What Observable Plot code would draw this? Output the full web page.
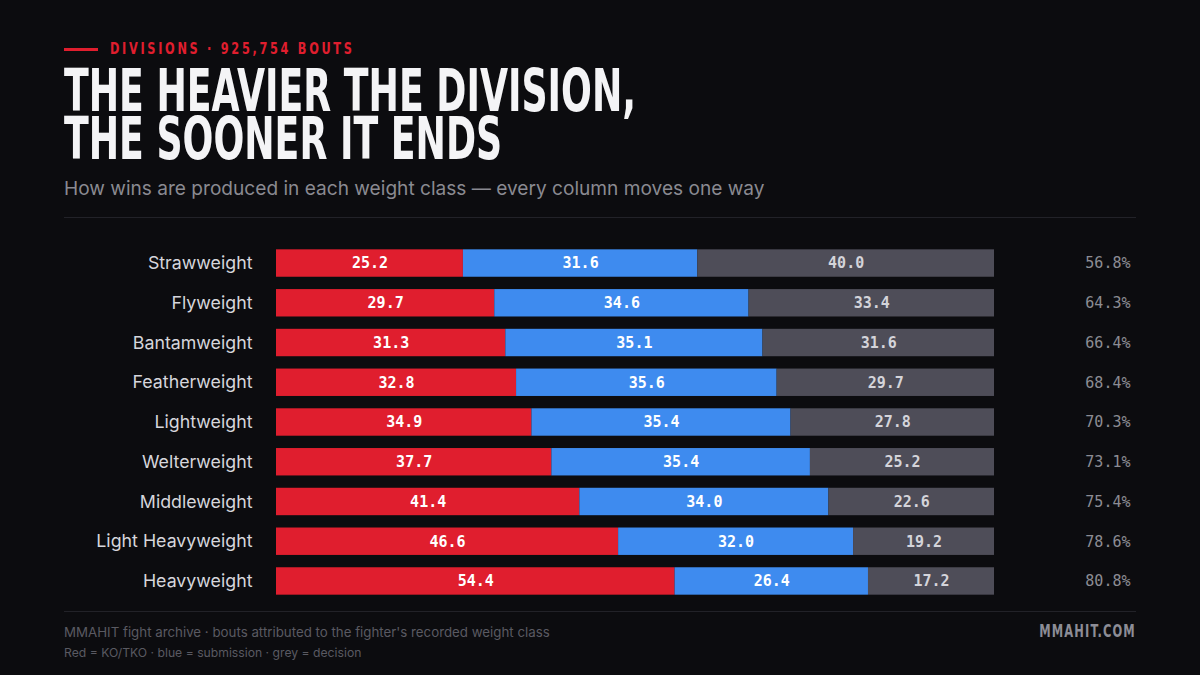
<!DOCTYPE html>
<html>
<head>
<meta charset="utf-8">
<script src="https://cdn.jsdelivr.net/npm/d3@7"></script>
<script src="https://cdn.jsdelivr.net/npm/@observablehq/plot@0.6"></script>
<style>
  html, body { margin: 0; padding: 0; background: #0c0c0f; }
  body { width: 1200px; height: 675px; position: relative; overflow: hidden; font-family: Inter, "Noto Sans", sans-serif; }
  .kicker { position: absolute; left: 64px; top: 40px; display: flex; align-items: center; }
  .kicker .bar { width: 34px; height: 3px; background: #e01e2e; margin-right: 12px; }
  .kicker .txt { color: #e01e2e; font-family: "DejaVu Sans Condensed", sans-serif; font-weight: 700; font-size: 15px; letter-spacing: 3.2px; line-height: 18px; transform-origin: 0 50%; transform: scaleX(0.84); white-space: nowrap; }
  .title { position: absolute; left: 64px; top: 67px; color: #f4f4f6; font-family: "DejaVu Sans Condensed", sans-serif; font-weight: 700; font-size: 58px; line-height: 48px; transform-origin: 0 0; transform: scaleX(0.695); white-space: nowrap; }
  .subtitle { position: absolute; left: 64px; top: 176px; color: #8a8a91; font-size: 19.1px; }
  .rule { position: absolute; left: 64px; width: 1072px; height: 1px; background: #222228; }
  #chart { position: absolute; left: 64px; top: 237px; }
  .foot1 { position: absolute; left: 64px; top: 624px; color: #5a5a62; font-size: 13.3px; }
  .foot2 { position: absolute; left: 64px; top: 645px; color: #5a5a62; font-size: 12.2px; }
  .brand { position: absolute; right: 64px; top: 621px; color: #8d8d96; font-family: "DejaVu Sans Condensed", sans-serif; font-weight: 700; font-size: 17px; letter-spacing: 1.5px; transform-origin: 100% 50%; transform: scaleX(0.75); white-space: nowrap; }
</style>
</head>
<body>
<div class="kicker"><div class="bar"></div><div class="txt">DIVISIONS · 925,754 BOUTS</div></div>
<div class="title">THE HEAVIER THE DIVISION,<br>THE SOONER IT ENDS</div>
<div class="subtitle">How wins are produced in each weight class — every column moves one way</div>
<div class="rule" style="top:217px"></div>
<div id="chart"></div>
<div class="rule" style="top:611px"></div>
<div class="foot1">MMAHIT fight archive · bouts attributed to the fighter's recorded weight class</div>
<div class="foot2">Red = KO/TKO · blue = submission · grey = decision</div>
<div class="brand">MMAHIT.COM</div>
<script>
const divisions = ["Strawweight","Flyweight","Bantamweight","Featherweight","Lightweight","Welterweight","Middleweight","Light Heavyweight","Heavyweight"];
const koTko     = [25.2, 29.7, 31.3, 32.8, 34.9, 37.7, 41.4, 46.6, 54.4];
const submission= [31.6, 34.6, 35.1, 35.6, 35.4, 35.4, 34.0, 32.0, 26.4];
const decision  = [40.0, 33.4, 31.6, 29.7, 27.8, 25.2, 22.6, 19.2, 17.2];
const types = ["KO/TKO", "Submission", "Decision"];
const colors = ["#e01e2e", "#3e8bef", "#4e4d58"];

const rows = [];
divisions.forEach((d, i) => {
  rows.push({division: d, type: types[0], value: koTko[i]});
  rows.push({division: d, type: types[1], value: submission[i]});
  rows.push({division: d, type: types[2], value: decision[i]});
});
const finishes = divisions.map((d, i) => ({division: d, finish: koTko[i] + submission[i]}));

const stackOpts = {offset: "normalize", order: types};

const chart = Plot.plot({
  width: 1072,
  height: 370,
  marginLeft: 212,
  marginRight: 142,
  marginTop: 0,
  marginBottom: 0,
  style: {background: "transparent"},
  x: {axis: null, domain: [0, 1]},
  y: {domain: divisions, padding: 0.31, round: false, label: null, axis: null},
  color: {domain: types, range: colors},
  marks: [
    Plot.barX(rows, Plot.stackX({...stackOpts, x: "value", y: "division", z: "type", fill: "type"})),
    Plot.text(rows, Plot.stackX({...stackOpts, x: "value", y: "division", z: "type",
      text: d => d.value.toFixed(1),
      fill: d => d.type === "Decision" ? "#d4d4da" : "#ffffff",
      fontFamily: "'DejaVu Sans Mono', 'Liberation Mono', monospace",
      fontWeight: 700, fontSize: 15})),
    Plot.text(finishes, {y: "division", frameAnchor: "right", textAnchor: "end", dx: 136,
      text: d => d.finish.toFixed(1) + "%",
      fill: "#8c8c94", fontFamily: "'DejaVu Sans Mono', 'Liberation Mono', monospace", fontSize: 15}),
    Plot.axisY({tickSize: 0, tickPadding: 24, fontSize: 17.8, color: "#d6d6dc", fontFamily: "Inter, sans-serif", label: null})
  ]
});
document.getElementById("chart").appendChild(chart);
</script>
</body>
</html>
